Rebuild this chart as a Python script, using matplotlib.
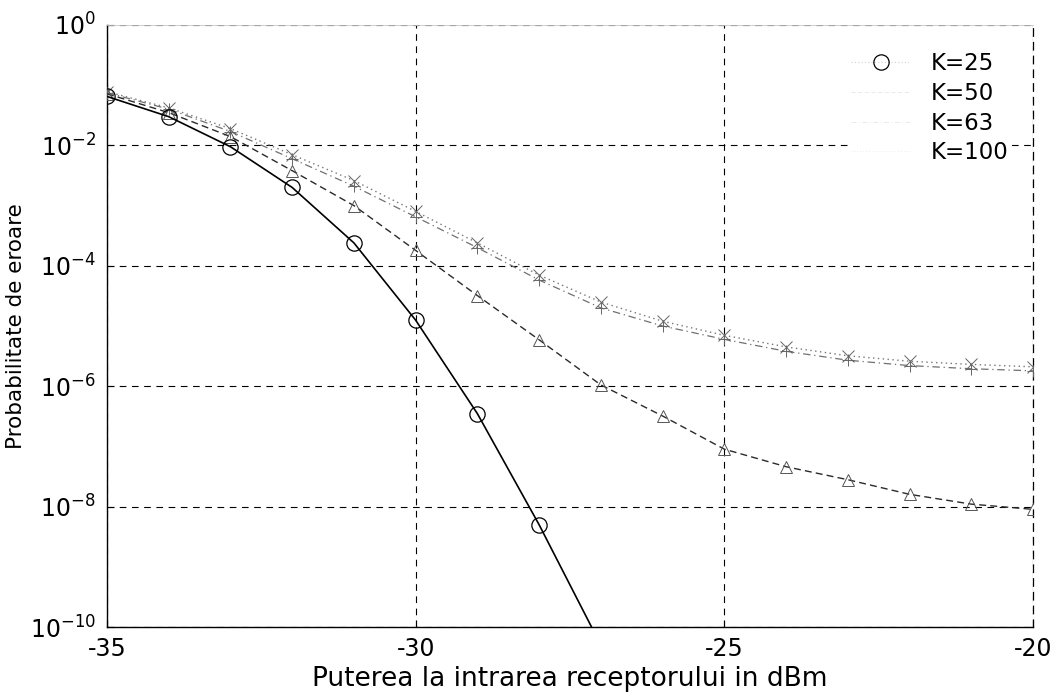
import matplotlib
matplotlib.use("Agg")
import matplotlib.pyplot as plt
from matplotlib.lines import Line2D

plt.rcParams['font.family'] = ['DejaVu Sans']
plt.rcParams['mathtext.fontset'] = 'dejavusans'

# Received optical power (dBm)
power_k25 = [-35, -34, -33, -32, -31, -30, -29, -28, -27]
power = list(range(-35, -19))

# Bit error probability for each number of users K
ber_k25 = [6.5e-2, 3.0e-2, 9.5e-3, 2.0e-3, 2.4e-4, 1.25e-5, 3.5e-7, 5.0e-9, 5.0e-11]
ber_k50 = [7.2e-2, 3.5e-2, 1.4e-2, 3.8e-3, 1.0e-3, 1.8e-4, 3.2e-5, 5.9e-6,
           1.05e-6, 3.2e-7, 9.0e-8, 4.6e-8, 2.8e-8, 1.6e-8, 1.1e-8, 9.0e-9]
ber_k63 = [7.5e-2, 4.0e-2, 1.7e-2, 6.0e-3, 2.1e-3, 6.5e-4, 2.0e-4, 5.8e-5,
           2.0e-5, 1.0e-5, 6.0e-6, 3.8e-6, 2.7e-6, 2.2e-6, 1.95e-6, 1.8e-6]
ber_k100 = [7.8e-2, 4.2e-2, 1.9e-2, 7.0e-3, 2.6e-3, 8.0e-4, 2.4e-4, 7.0e-5,
            2.5e-5, 1.2e-5, 7.0e-6, 4.5e-6, 3.2e-6, 2.6e-6, 2.3e-6, 2.1e-6]

labels = ['K=25', 'K=50', 'K=63', 'K=100']
x_ticks = [-35, -30, -25, -20]
y_ticks = [1e0, 1e-2, 1e-4, 1e-6, 1e-8, 1e-10]
y_ticklabels = ['$10^{0}$', '$10^{-2}$', '$10^{-4}$', '$10^{-6}$', '$10^{-8}$', '$10^{-10}$']

fig = plt.figure(figsize=(10.53, 6.92), dpi=100)
ax = fig.add_axes([0.1016, 0.0939, 0.8794, 0.87])

ax.semilogy(power_k25, ber_k25, color='black', lw=1.2, ls='-',
            marker='o', ms=11, mfc='none', mec='black', mew=0.9, zorder=5)
ax.semilogy(power, ber_k50, color='#2a2a2a', lw=1.0, ls=(0, (5, 3)),
            marker='^', ms=8, mfc='none', mec='#555555', mew=0.7, zorder=4)
ax.semilogy(power, ber_k63, color='#707070', lw=0.9, ls=(0, (6, 3, 1, 3)),
            marker='+', ms=9, mec='#666666', mew=0.7, zorder=3)
ax.semilogy(power, ber_k100, color='#777777', lw=1.0, ls=(0, (1, 2.5)),
            marker='x', ms=8, mec='#666666', mew=0.7, zorder=3)

ax.set_xlim(-35, -20)
ax.set_ylim(1e-10, 1e0)
ax.set_xticks(x_ticks)
ax.set_xticklabels([str(v) for v in x_ticks])
ax.set_yticks(y_ticks)
ax.set_yticklabels(y_ticklabels)
ax.yaxis.set_minor_locator(matplotlib.ticker.NullLocator())
ax.tick_params(direction='in', length=5, width=0.8, labelsize=17, pad=8)
ax.tick_params(axis='x', pad=7)

ax.grid(True, which='major', color='black', lw=0.8, ls=(0, (6, 5)))

for side in ('left', 'bottom'):
    ax.spines[side].set_linewidth(1.0)
ax.spines['top'].set_color('#c8c8c8')
ax.spines['top'].set_linewidth(0.6)
ax.spines['right'].set_linestyle((0, (6, 5)))
ax.spines['right'].set_linewidth(0.9)

ax.set_xlabel('Puterea la intrarea receptorului in dBm', fontsize=19)
ax.set_ylabel('Probabilitate de eroare', fontsize=15.5)
ax.xaxis.set_label_coords(0.5, -0.064)
ax.yaxis.set_label_coords(-0.087, 0.5)

handles = [
    Line2D([], [], color='#d0d0d0', lw=0.8, ls=(0, (1, 2)), marker='o', ms=11,
           mfc='none', mec='black', mew=0.9),
    Line2D([], [], color='#e6e6e6', lw=0.6, ls=(0, (5, 3))),
    Line2D([], [], color='#e6e6e6', lw=0.6, ls=(0, (6, 3, 1, 3))),
    Line2D([], [], color='#e6e6e6', lw=0.6, ls=(0, (1, 2.5))),
]
leg = ax.legend(handles, labels, loc='upper left', bbox_to_anchor=(0.795, 0.945),
                bbox_transform=fig.transFigure, frameon=True, fontsize=16.5,
                handlelength=2.6, handletextpad=0.9, labelspacing=0.3,
                borderpad=0.1, fancybox=False)
leg.get_frame().set_facecolor('white')
leg.get_frame().set_edgecolor('none')
leg.get_frame().set_alpha(1.0)

fig.savefig('out.png', dpi=100)
